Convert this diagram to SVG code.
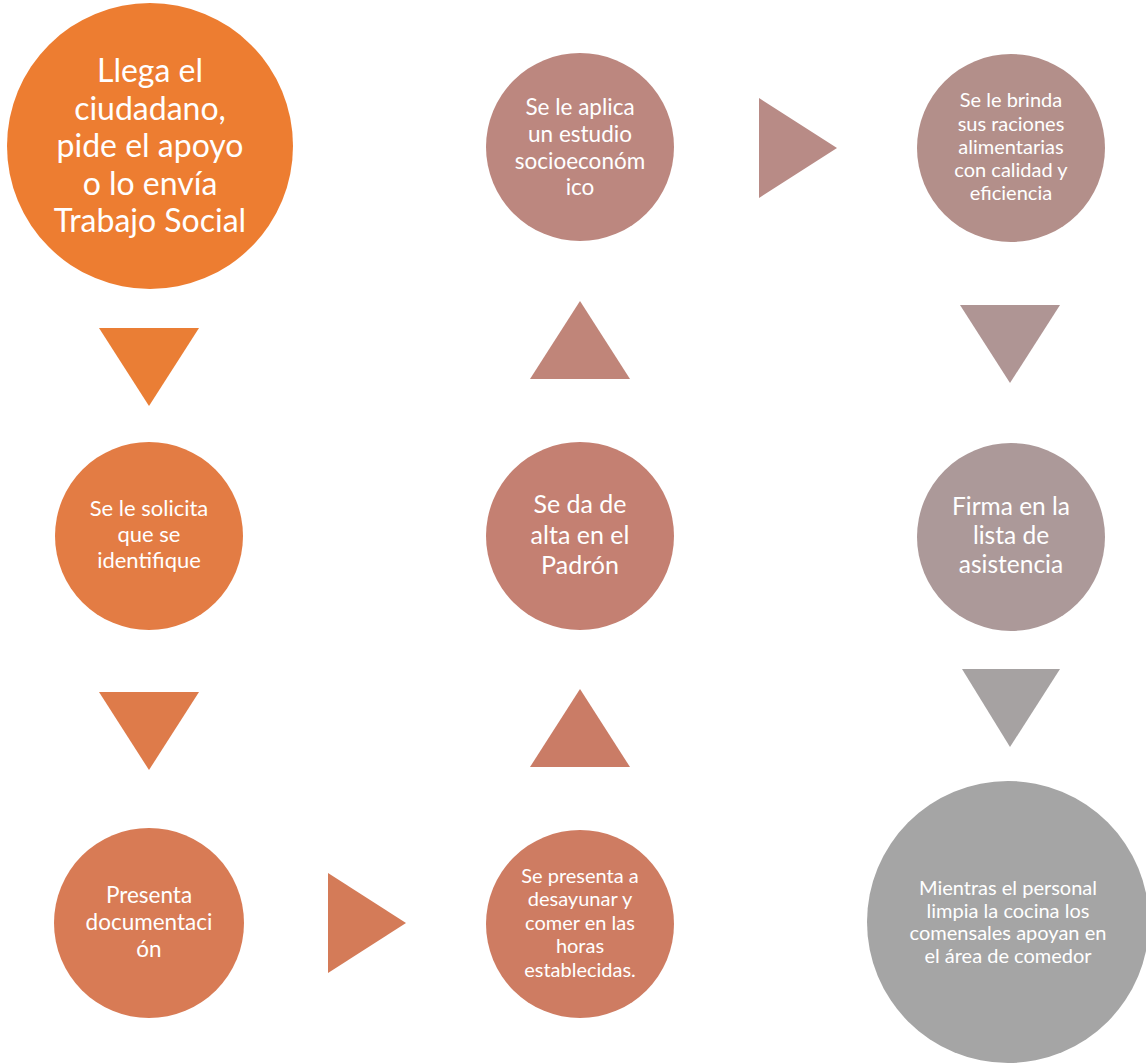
<svg xmlns="http://www.w3.org/2000/svg" width="1146" height="1063" viewBox="0 0 1146 1063">
<style>
text{font-family:Lato,"Open Sans","Liberation Sans",sans-serif;fill:#fff;text-anchor:middle}
</style>
<rect width="1146" height="1063" fill="#fff"/>
<g id="connectors">
<polygon points="99,328 199,328 149,406" fill="#EA7E35"/>
<polygon points="99,692 199,692 149,770" fill="#DE7B4A"/>
<polygon points="328,873 406,923 328,973" fill="#D47B58"/>
<polygon points="530,767 630,767 580,689" fill="#CA7C66"/>
<polygon points="530,379 630,379 580,301" fill="#C08579"/>
<polygon points="759,98 837,148 759,198" fill="#B88B86"/>
<polygon points="960,305 1060,305 1010,383" fill="#AF9594"/>
<polygon points="962,669 1060,669 1010,747" fill="#A6A2A2"/>
</g>
<g id="n1">
<circle cx="150" cy="146" r="143" fill="#ED7D31"/>
<text font-size="32"><tspan x="150" y="82">Llega el</tspan><tspan x="150" y="119.5">ciudadano,</tspan><tspan x="150" y="157">pide el apoyo</tspan><tspan x="150" y="194.5">o lo envía</tspan><tspan x="150" y="232">Trabajo Social</tspan></text>
</g>
<g id="n2">
<circle cx="149" cy="536" r="94" fill="#E37C44"/>
<text font-size="22"><tspan x="149" y="516">Se le solicita</tspan><tspan x="149" y="542">que se</tspan><tspan x="149" y="568">identifique</tspan></text>
</g>
<g id="n3">
<circle cx="149" cy="923" r="95" fill="#D87B55"/>
<text font-size="22.5"><tspan x="149" y="903">Presenta</tspan><tspan x="149" y="930">documentaci</tspan><tspan x="149" y="957">ón</tspan></text>
</g>
<g id="n4">
<circle cx="580" cy="924" r="94" fill="#CE7C62"/>
<text font-size="20"><tspan x="580" y="883">Se presenta a</tspan><tspan x="580" y="906">desayunar y</tspan><tspan x="580" y="930">comer en las</tspan><tspan x="580" y="953">horas</tspan><tspan x="580" y="977">establecidas.</tspan></text>
</g>
<g id="n5">
<circle cx="580" cy="536" r="94" fill="#C48072"/>
<text font-size="25"><tspan x="580" y="513">Se da de</tspan><tspan x="580" y="543.5">alta en el</tspan><tspan x="580" y="574">Padrón</tspan></text>
</g>
<g id="n6">
<circle cx="580" cy="147" r="94" fill="#BC877F"/>
<text font-size="22.5"><tspan x="580" y="115">Se le aplica</tspan><tspan x="580" y="142">un estudio</tspan><tspan x="580" y="168.5">socioeconóm</tspan><tspan x="580" y="195">ico</tspan></text>
</g>
<g id="n7">
<circle cx="1011" cy="148" r="94" fill="#B38F8A"/>
<text font-size="20"><tspan x="1011" y="107">Se le brinda</tspan><tspan x="1011" y="130.5">sus raciones</tspan><tspan x="1011" y="154">alimentarias</tspan><tspan x="1011" y="177">con calidad y</tspan><tspan x="1011" y="200">eficiencia</tspan></text>
</g>
<g id="n8">
<circle cx="1011" cy="537" r="94" fill="#AC9999"/>
<text font-size="24.5"><tspan x="1011" y="514.5">Firma en la</tspan><tspan x="1011" y="543.5">lista de</tspan><tspan x="1011" y="572.5">asistencia</tspan></text>
</g>
<g id="n9">
<circle cx="1008" cy="922" r="141" fill="#A5A5A5"/>
<text font-size="20"><tspan x="1008" y="895">Mientras el personal</tspan><tspan x="1008" y="917.5">limpia la cocina los</tspan><tspan x="1008" y="940">comensales apoyan en</tspan><tspan x="1008" y="963">el área de comedor</tspan></text>
</g>
</svg>
